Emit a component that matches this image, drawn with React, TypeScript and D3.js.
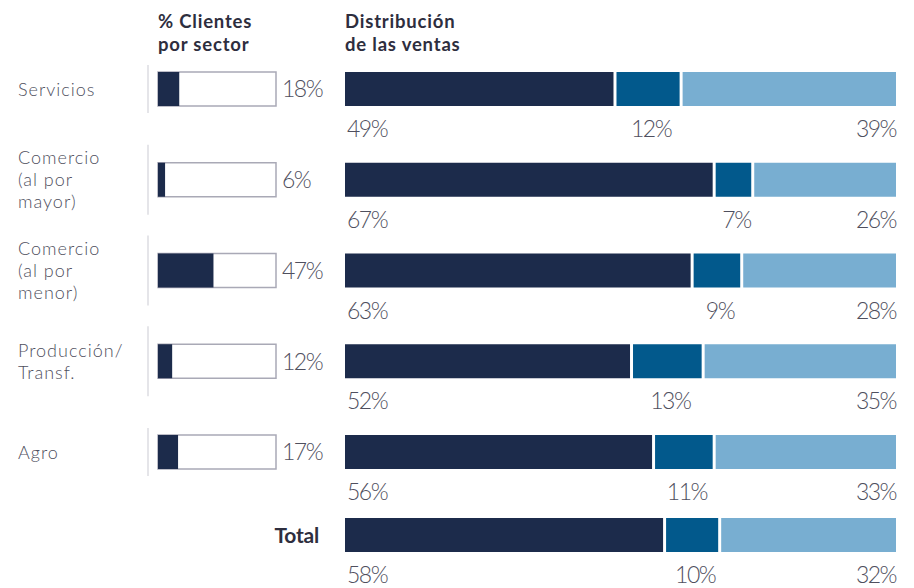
import React from "react";
import * as d3 from "d3";

const sectors = ["Servicios", "Comercio (al por mayor)", "Comercio (al por menor)", "Producción/Transf.", "Agro"];
const sectorLines = [["Servicios"], ["Comercio", "(al por", "mayor)"], ["Comercio", "(al por", "menor)"], ["Producción/", "Transf."], ["Agro"]];
const clientShare = [18, 6, 47, 12, 17];
const rows = [...sectors, "Total"];
const salesA = [49, 67, 63, 52, 56, 58];
const salesB = [12, 7, 9, 13, 11, 10];
const salesC = [39, 26, 28, 35, 33, 32];
const headerLeft = ["% Clientes", "por sector"];
const headerRight = ["Distribución", "de las ventas"];

const W = 914, H = 588;
const C_DARK = "#1c2b4b", C_MID = "#02598c", C_LIGHT = "#78aed1";
const TXT = "#4f4f5e";
const FONT = "Lato, 'Open Sans', sans-serif";

export default function App() {
  const yTop = d3.scalePoint<string>().domain(sectors).range([72, 435]);
  const totalTop = 518;
  const barH = 34;
  const xSmall = d3.scaleLinear().domain([0, 100]).range([158, 276]);
  const xBig = d3.scaleLinear().domain([0, 100]).range([345, 896]);
  const topOf = (r: string) => (r === "Total" ? totalTop : (yTop(r) as number));
  const gap = 1.5;
  const hSize = 18.5, hLine = 22.5;

  return (
    <div style={{ position: "absolute", left: 0, top: 0 }}>
      <svg width={W} height={H} style={{ display: "block", background: "#fff" }} fontFamily={FONT}>
        {headerLeft.map((t, i) => (
          <text key={"hl" + i} x={158} y={28 + i * hLine} fontSize={hSize} fontWeight={700} fill="#2e2e3e" letterSpacing={0.8}>{t}</text>
        ))}
        {headerRight.map((t, i) => (
          <text key={"hr" + i} x={345} y={28 + i * hLine} fontSize={hSize} fontWeight={700} fill="#2e2e3e" letterSpacing={0.8}>{t}</text>
        ))}
        {sectors.map((s, i) => {
          const top = yTop(s) as number;
          const cy = top + barH / 2;
          const lines = sectorLines[i];
          const lh = 22;
          const ext = lines.length === 1 ? 7 : 18;
          return (
            <g key={s}>
              {lines.map((l, j) => (
                <text key={j} x={18} y={cy + (j - (lines.length - 1) / 2) * lh + 6.5} fontSize={18} fontWeight={300} fill={TXT} letterSpacing={1}>{l}</text>
              ))}
              <line x1={148} x2={148} y1={top - ext} y2={top + barH + ext} stroke="#d4d4da" strokeWidth={1.2} />
              <rect x={xSmall(0)} y={top} width={xSmall(100) - xSmall(0)} height={barH} fill="#fff" stroke="#a9a9b6" strokeWidth={1.5} />
              <rect x={xSmall(0)} y={top} width={xSmall(clientShare[i]) - xSmall(0)} height={barH} fill={C_DARK} />
              <text x={282} y={cy} dy="0.36em" fontSize={23} fontWeight={300} fill={TXT} letterSpacing={-1.5}>{clientShare[i]}%</text>
            </g>
          );
        })}
        {rows.map((r, i) => {
          const top = topOf(r);
          const a = salesA[i], b = salesB[i], c = salesC[i];
          const x0 = xBig(0), x1 = xBig(a), x2 = xBig(a + b), x3 = xBig(a + b + c);
          const ly = top + barH + 31;
          return (
            <g key={r}>
              <rect x={x0} y={top} width={x1 - x0 - gap} height={barH} fill={C_DARK} />
              <rect x={x1 + gap} y={top} width={x2 - x1 - 2 * gap} height={barH} fill={C_MID} />
              <rect x={x2 + gap} y={top} width={x3 - x2 - gap} height={barH} fill={C_LIGHT} />
              <text x={x0 + 2} y={ly} fontSize={23} fontWeight={300} fill={TXT} letterSpacing={-1.5}>{a}%</text>
              <text x={(x1 + x2) / 2 + 3} y={ly} textAnchor="middle" fontSize={23} fontWeight={300} fill={TXT} letterSpacing={-1.5}>{b}%</text>
              <text x={x3} y={ly} textAnchor="end" fontSize={23} fontWeight={300} fill={TXT} letterSpacing={-1.5}>{c}%</text>
              {r === "Total" && (
                <text x={319} y={top + barH / 2} dy="0.36em" textAnchor="end" fontSize={21} fontWeight={700} fill="#2e2e3e" letterSpacing={-0.2}>Total</text>
              )}
            </g>
          );
        })}
      </svg>
    </div>
  );
}
